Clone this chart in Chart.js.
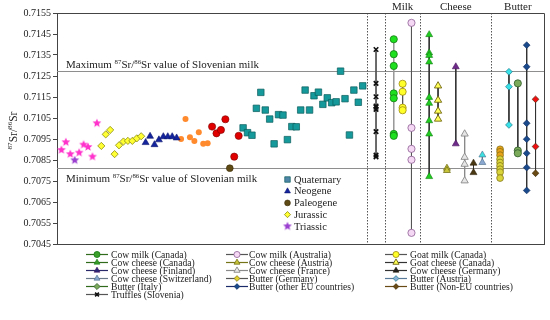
<!DOCTYPE html>
<html>
<head>
<meta charset="utf-8">
<script src="https://cdn.jsdelivr.net/npm/chart.js@4.4.1/dist/chart.umd.min.js"></script>
<style>
  html, body { margin: 0; padding: 0; background: #fff; }
  #wrap { width: 550px; height: 320px; }
</style>
</head>
<body>
<div id="wrap"><canvas id="srChart" width="550" height="320"></canvas></div>
<script>
const FONT = '"Liberation Serif", "DejaVu Serif", serif';
const INK = '#222';

// y axis
const yTicks = [0.7045, 0.7055, 0.7065, 0.7075, 0.7085, 0.7095, 0.7105, 0.7115, 0.7125, 0.7135, 0.7145, 0.7155];
const milkRange = [0.70810, 0.71274]; // min / max 87Sr/86Sr of Slovenian milk

// geology, in sample order left to right
const triassic = [0.70898, 0.70935, 0.70878, 0.70849, 0.70885, 0.70923, 0.70912, 0.70866, 0.71025];
const jurassic = [0.70917, 0.70972, 0.70993, 0.70878, 0.70920, 0.70938, 0.70941, 0.70941, 0.70953, 0.70963];
const neogene = [0.70933, 0.70963, 0.70923, 0.70946, 0.70961, 0.70961, 0.70961, 0.70955];
const orangeSites = [0.70950, 0.71045, 0.70958, 0.70941, 0.70982, 0.70927, 0.70930];
const redSitesA = [0.71009, 0.70977, 0.70993, 0.71044];
const paleogene = [0.70811];
const redSitesB = [0.70866, 0.70965];
const quaternary = [0.71003, 0.70980, 0.70968, 0.71096, 0.71172, 0.71088, 0.71045, 0.70927, 0.71066, 0.71064,
  0.70947, 0.71009, 0.71008, 0.71088, 0.71183, 0.71088, 0.71156, 0.71173, 0.71115, 0.71146,
  0.71123, 0.71127, 0.71273, 0.71142, 0.70969, 0.71183, 0.71125, 0.71203];

// products (one column each)
const truffles = [0.71376, 0.71215, 0.71151, 0.71107, 0.71101, 0.71091, 0.70985, 0.70873, 0.70865];
const cowMilkCanada = [0.71425, 0.71354, 0.71298, 0.71167, 0.71144, 0.70974, 0.70965];
const goatMilkCanada = [0.71213, 0.71175, 0.71099, 0.71087];
const cowMilkAustralia = [0.71503, 0.71003, 0.70903, 0.70851, 0.70503];
const cowCheeseCanada = [0.71447, 0.71360, 0.71348, 0.71317, 0.71148, 0.71120, 0.71037, 0.70974, 0.70771];
const goatCheeseCanada = [0.71203, 0.71135, 0.71083, 0.71045];
const cowCheeseAustria = [0.70811, 0.70800];
const cowCheeseFinland = [0.71294, 0.70927];
const cowCheeseFrance = [0.70974, 0.70863, 0.70830, 0.70751];
const cowCheeseGermany = [0.70835, 0.70790];
const cowCheeseSwitzerland = [0.70874, 0.70838];
const butterGermany = [0.70901, 0.70889, 0.70873, 0.70854, 0.70838, 0.70822, 0.70806, 0.70792, 0.70764];
const butterAustria = [0.71270, 0.71199, 0.71017];
const butterItaly = [0.71215, 0.70895, 0.70882];
const butterOtherEU = [0.71397, 0.71294, 0.71025, 0.70949, 0.70882, 0.70814, 0.70705];
const butterNonEU = [0.71139, 0.70914, 0.70787];

// x slots: geology samples are 0..68, then the product columns
const separators = [69, 73, 81, 97];
const groupHeads = [['Milk', 77], ['Cheese', 89], ['Butter', 103]];

function makeStar(fill, r) {
  const c = document.createElement('canvas');
  const s = Math.ceil(r * 2 + 2);
  c.width = c.height = s;
  const g = c.getContext('2d');
  g.beginPath();
  for (let i = 0; i < 10; i++) {
    const rad = i % 2 ? r * 0.45 : r;
    const a = -Math.PI / 2 + i * Math.PI / 5;
    g.lineTo(s / 2 + rad * Math.cos(a), s / 2 + rad * Math.sin(a));
  }
  g.closePath();
  g.fillStyle = fill;
  g.fill();
  return c;
}
const pinkStar = makeStar('#ff33cc', 4.6);
const purpleStar = makeStar('#9a3fd0', 4.6);

let cursor = 0;
function geo(label, values, st) {
  const data = values.map(v => ({ x: cursor++, y: v }));
  return {
    label, data, showLine: false, _st: st,
    pointStyle: st.shape, pointRadius: st.r,
    pointBackgroundColor: st.fill, pointBorderColor: st.edge, pointBorderWidth: st.bw
  };
}
function col(label, slot, values, st) {
  const data = values.slice().sort((a, b) => b - a).map(v => ({ x: slot, y: v }));
  return {
    label, data, showLine: true, _st: st,
    borderColor: st.line, borderWidth: 1,
    pointStyle: st.shape, pointRadius: st.r,
    pointBackgroundColor: st.fill, pointBorderColor: st.edge, pointBorderWidth: st.bw
  };
}

const geoSets = [
  geo('Triassic', triassic, { shape: c => c.dataIndex === 3 ? purpleStar : pinkStar, legendShape: purpleStar, r: 4, fill: '#ff33cc', edge: '#ff33cc', bw: 0 }),
  geo('Jurassic', jurassic, { shape: 'rectRot', r: 3.6, fill: '#ffff33', edge: '#8a8a10', bw: 0.8 }),
  geo('Neogene', neogene, { shape: 'triangle', r: 4, fill: '#14249c', edge: '#0c1670', bw: 0.6 }),
  geo('orange sites', orangeSites, { shape: 'circle', r: 3, fill: '#ff8a2e', edge: '#ff8a2e', bw: 0 }),
  geo('red sites', redSitesA, { shape: 'circle', r: 3.6, fill: '#e00000', edge: '#7a0000', bw: 0.6 }),
  geo('Paleogene', paleogene, { shape: 'circle', r: 3.4, fill: '#5e4a14', edge: '#3a2c08', bw: 0.6 }),
  geo('red sites 2', redSitesB, { shape: 'circle', r: 3.6, fill: '#e00000', edge: '#7a0000', bw: 0.6 }),
  geo('Quaternary', quaternary, { shape: 'rect', r: 4.6, fill: '#16999a', edge: '#0b5c5c', bw: 0.7, legendFill: '#4f86a8' })
];

const prodSets = [
  col('Truffles (Slovenia)', 71, truffles, { shape: 'crossRot', r: 3.2, fill: '#111', edge: '#111', bw: 1.6, line: '#555' }),
  col('Cow milk (Canada)', 75, cowMilkCanada, { shape: 'circle', r: 3.6, fill: '#1fe01f', edge: '#137a13', bw: 0.8, line: '#9a9a9a', legendLine: '#2f6b1a', legendFill: '#3aa02a' }),
  col('Goat milk (Canada)', 77, goatMilkCanada, { shape: 'circle', r: 3.6, fill: '#ffff2a', edge: '#a08c10', bw: 0.8, line: '#555' }),
  col('Cow milk (Australia)', 79, cowMilkAustralia, { shape: 'circle', r: 3.6, fill: '#f4d8f4', edge: '#8e5e94', bw: 0.8, line: '#555' }),
  col('Cow cheese (Canada)', 83, cowCheeseCanada, { shape: 'triangle', r: 4, fill: '#1fcc1f', edge: '#138013', bw: 0.6, line: '#333', legendLine: '#2f6b1a', legendFill: '#3a9a2a' }),
  col('Goat cheese (Canada)', 85, goatCheeseCanada, { shape: 'triangle', r: 4.2, fill: '#ffff55', edge: '#6e6410', bw: 0.9, line: '#333' }),
  col('Cow cheese (Austria)', 87, cowCheeseAustria, { shape: 'triangle', r: 4, fill: '#c8c43a', edge: '#767418', bw: 0.8, line: '#767418' }),
  col('Cow cheese (Finland)', 89, cowCheeseFinland, { shape: 'triangle', r: 4, fill: '#6e2a88', edge: '#4a1660', bw: 0.6, line: '#333', legendLine: '#2a2a6a', legendFill: '#2a2a7a' }),
  col('Cow cheese (France)', 91, cowCheeseFrance, { shape: 'triangle', r: 4.2, fill: '#e6e6e6', edge: '#8a8a8a', bw: 0.9, line: '#8a8a8a' }),
  col('Cow cheese (Germany)', 93, cowCheeseGermany, { shape: 'triangle', r: 4, fill: '#4a3812', edge: '#2a1e08', bw: 0.6, line: '#333', legendFill: '#222' }),
  col('Cow cheese (Switzerland)', 95, cowCheeseSwitzerland, { shape: 'triangle', r: 4, fill: c => c.dataIndex === 0 ? '#3ee0e0' : '#8aa8d0', edge: '#4a6a8a', bw: 0.6, line: '#6a7a8a', legendFill: '#8aa8d0' }),
  col('Butter (Germany)', 99, butterGermany, { shape: 'circle', r: 3.4, fill: c => c.dataIndex < 3 ? '#e8a21a' : '#d8d43a', edge: '#7a6a10', bw: 0.7, line: '#555', legendShape: 'rectRot', legendFill: '#e0d030' }),
  col('Butter (Austria)', 101, butterAustria, { shape: 'rectRot', r: 3.4, fill: '#38e0e8', edge: '#1a7a8a', bw: 0.7, line: '#333', legendLine: '#5a7a9a', legendFill: '#8ab0d8' }),
  col('Butter (Italy)', 103, butterItaly, { shape: 'circle', r: 3.6, fill: '#7aaa5a', edge: '#2f5a2a', bw: 0.8, line: '#333', legendShape: 'rectRot', legendLine: '#2f6b1a', legendFill: '#7aaa5a' }),
  col('Butter (other EU countries)', 105, butterOtherEU, { shape: 'rectRot', r: 3.4, fill: '#1a4a8c', edge: '#0e2a5a', bw: 0.6, line: '#333', legendLine: '#1a2a6a' }),
  col('Butter (Non-EU countries)', 107, butterNonEU, { shape: 'rectRot', r: 3.4, fill: c => c.dataIndex < 2 ? '#ee1010' : '#6a4a14', edge: '#3a2808', bw: 0.6, line: '#333', legendLine: '#6a4a14', legendFill: '#6a4a14' })
];

const legendOrder = [
  'Cow milk (Canada)', 'Cow milk (Australia)', 'Goat milk (Canada)',
  'Cow cheese (Canada)', 'Cow cheese (Austria)', 'Goat cheese (Canada)',
  'Cow cheese (Finland)', 'Cow cheese (France)', 'Cow cheese (Germany)',
  'Cow cheese (Switzerland)', 'Butter (Germany)', 'Butter (Austria)',
  'Butter (Italy)', 'Butter (other EU countries)', 'Butter (Non-EU countries)',
  'Truffles (Slovenia)'
];
const geoLegend = ['Quaternary', 'Neogene', 'Paleogene', 'Jurassic', 'Triassic'];

function supText(ctx, parts, x, y, size) {
  let cx = x;
  parts.forEach(p => {
    const sup = p[0] === '^';
    const t = sup ? p.slice(1) : p;
    ctx.font = (sup ? size * 0.62 : size) + 'px ' + FONT;
    ctx.fillText(t, cx, sup ? y - size * 0.38 : y);
    cx += ctx.measureText(t).width;
  });
  return cx - x;
}
function supWidth(ctx, parts, size) {
  let w = 0;
  parts.forEach(p => {
    const sup = p[0] === '^';
    ctx.font = (sup ? size * 0.62 : size) + 'px ' + FONT;
    w += ctx.measureText(sup ? p.slice(1) : p).width;
  });
  return w;
}
function marker(ctx, st, x, y) {
  const shape = st.legendShape || st.shape;
  const fill = st.legendFill || (typeof st.fill === 'string' ? st.fill : '#888');
  ctx.save();
  ctx.fillStyle = fill;
  ctx.strokeStyle = st.edge;
  ctx.lineWidth = st.bw;
  Chart.helpers.drawPoint(ctx, { pointStyle: shape, radius: st.r * 0.85, rotation: 0, borderWidth: st.bw }, x, y);
  ctx.restore();
}

const decor = {
  id: 'decor',
  beforeDatasetsDraw(chart) {
    const { ctx, chartArea: a, scales: { x, y } } = chart;
    ctx.save();
    ctx.lineWidth = 1;
    ctx.strokeStyle = '#8e8e8e';
    milkRange.forEach(v => {
      const py = Math.round(y.getPixelForValue(v)) + 0.5;
      ctx.beginPath(); ctx.moveTo(a.left, py); ctx.lineTo(a.right, py); ctx.stroke();
    });
    ctx.strokeStyle = '#555';
    ctx.setLineDash([1.5, 1.5]);
    separators.forEach(s => {
      const px = Math.round(x.getPixelForValue(s)) + 0.5;
      ctx.beginPath(); ctx.moveTo(px, a.top); ctx.lineTo(px, a.bottom); ctx.stroke();
    });
    ctx.setLineDash([]);
    ctx.strokeStyle = '#444';
    ctx.beginPath();
    ctx.moveTo(a.left, Math.round(a.top) + 0.5);
    ctx.lineTo(Math.round(a.right) + 0.5, Math.round(a.top) + 0.5);
    ctx.lineTo(Math.round(a.right) + 0.5, a.bottom);
    ctx.stroke();
    ctx.restore();
  },
  afterDraw(chart) {
    const { ctx, chartArea: a, scales: { x, y } } = chart;
    ctx.save();
    ctx.fillStyle = INK;
    ctx.textBaseline = 'alphabetic';
    ctx.textAlign = 'left';

    // group headers
    ctx.font = '11px ' + FONT;
    ctx.textAlign = 'center';
    groupHeads.forEach(([t, s]) => ctx.fillText(t, x.getPixelForValue(s), a.top - 3));
    ctx.textAlign = 'left';

    // max / min labels
    const yMax = y.getPixelForValue(milkRange[1]);
    const yMin = y.getPixelForValue(milkRange[0]);
    supText(ctx, ['Maximum ', '^87', 'Sr/', '^86', 'Sr value of Slovenian milk'], a.left + 9, yMax - 2.5, 11);
    supText(ctx, ['Minimum ', '^87', 'Sr/', '^86', 'Sr value of Slovenian milk'], a.left + 9, yMin + 14, 11);

    // y title
    const tParts = ['^87', 'Sr/', '^86', 'Sr'];
    ctx.save();
    ctx.translate(16.5, (a.top + a.bottom) / 2 + 2);
    ctx.rotate(-Math.PI / 2);
    supText(ctx, tParts, -supWidth(ctx, tParts, 11.5) / 2, 0, 11.5);
    ctx.restore();

    // geology legend inside plot
    ctx.font = '10px ' + FONT;
    ctx.textBaseline = 'middle';
    geoLegend.forEach((name, i) => {
      const ds = chart.data.datasets.find(d => d.label === name);
      const ly = 179.5 + i * 11.7;
      marker(ctx, ds._st, 287.5, ly);
      ctx.fillStyle = INK;
      ctx.font = '10.5px ' + FONT;
      ctx.fillText(name, 294, ly + 0.5);
    });

    // bottom legend, 3 columns
    const cols = [{ ix: 97, tx: 111 }, { ix: 237, tx: 249 }, { ix: 396, tx: 410 }];
    legendOrder.forEach((name, i) => {
      const ds = chart.data.datasets.find(d => d.label === name);
      const st = ds._st;
      const c = cols[i % 3];
      const ly = 254.5 + Math.floor(i / 3) * 8;
      ctx.strokeStyle = st.legendLine || st.line;
      ctx.lineWidth = 1.2;
      ctx.beginPath(); ctx.moveTo(c.ix - 11, ly); ctx.lineTo(c.ix + 11, ly); ctx.stroke();
      marker(ctx, st, c.ix, ly);
      ctx.fillStyle = INK;
      ctx.font = '9.6px ' + FONT;
      ctx.fillText(name, c.tx, ly + 0.5);
    });
    ctx.restore();
  }
};

new Chart(document.getElementById('srChart').getContext('2d'), {
  type: 'scatter',
  data: { datasets: [...prodSets, ...geoSets] },
  options: {
    responsive: false,
    animation: false,
    devicePixelRatio: 1,
    layout: { padding: { top: 13, right: 5, bottom: 76, left: 0 } },
    plugins: { legend: { display: false }, tooltip: { enabled: false } },
    clip: false,
    scales: {
      x: {
        type: 'linear', min: -1, max: 109,
        ticks: { display: false },
        grid: { drawOnChartArea: false, drawTicks: false },
        border: { display: true, color: '#444' },
        afterFit: s => { s.height = 0; }
      },
      y: {
        type: 'linear', min: 0.7045, max: 0.7155,
        afterBuildTicks: s => { s.ticks = yTicks.map(v => ({ value: v })); },
        afterFit: s => { s.width = 57; },
        ticks: { font: { family: FONT, size: 10 }, color: INK, padding: 2, callback: v => v.toFixed(4) },
        grid: { drawOnChartArea: false, drawTicks: true, tickLength: 4, color: '#444' },
        border: { display: true, color: '#444' }
      }
    }
  },
  plugins: [decor]
});
</script>
</body>
</html>
